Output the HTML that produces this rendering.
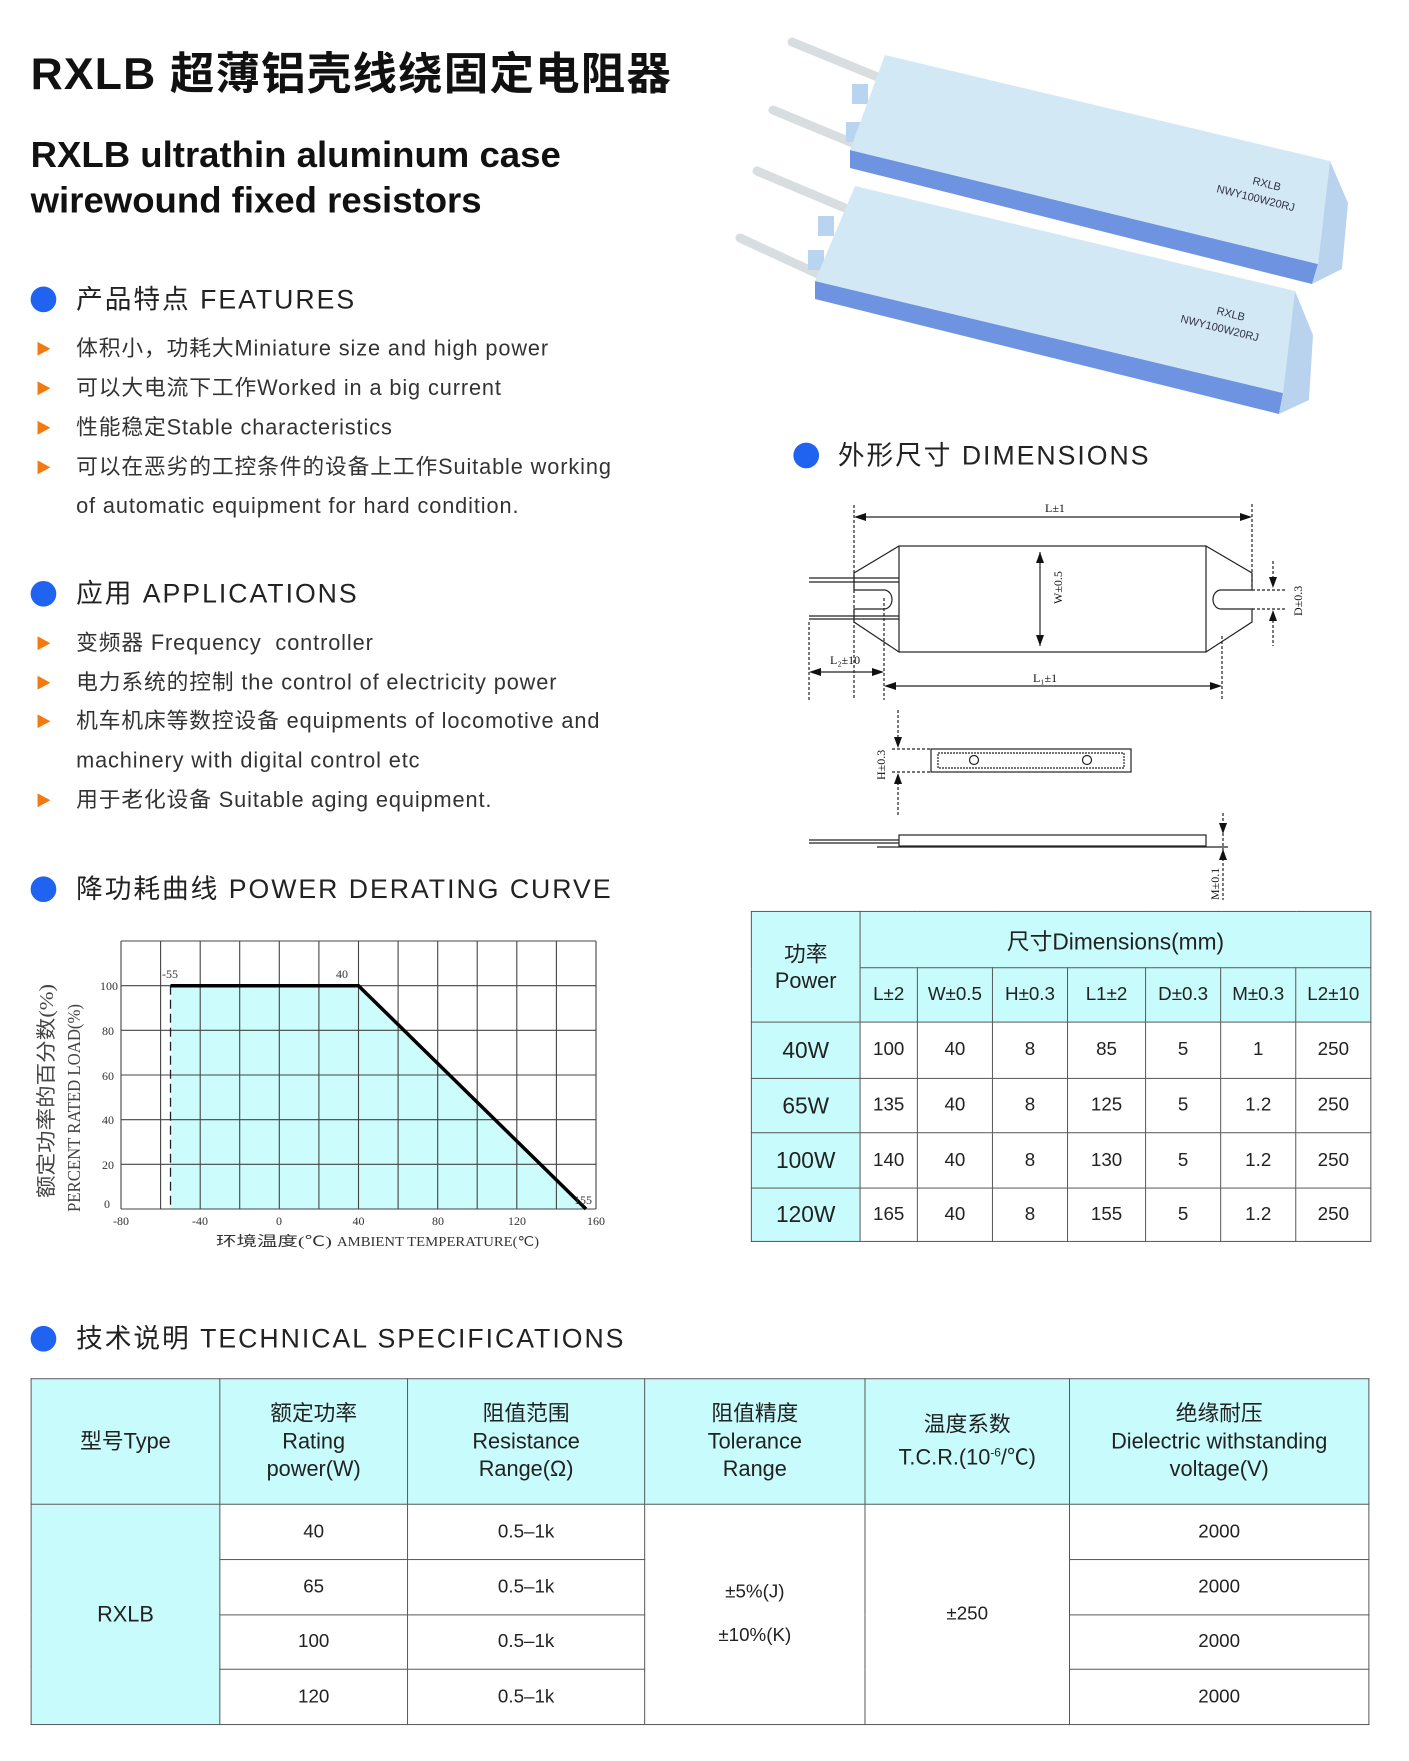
<!DOCTYPE html>
<html><head><meta charset="utf-8">
<style>
*{margin:0;padding:0;box-sizing:border-box}
body{width:1409px;height:1761px;background:#fff;position:relative;overflow:hidden;font-family:"Liberation Sans","Noto Sans CJK SC",sans-serif;color:#222}
.s{position:absolute;left:0;top:0;width:1409px;height:1761px;transform:scale(0.988);transform-origin:0 0}
.a{position:absolute;white-space:nowrap}
.h1{left:31px;top:38px;font-size:45px;font-weight:bold;color:#111;letter-spacing:1.2px}
.h2{left:31px;font-size:37px;font-weight:bold;color:#111;line-height:46px}
.sec{font-size:27px;letter-spacing:2px;color:#222;line-height:40px}
.dot{position:absolute;width:26px;height:26px;border-radius:50%;background:#1f63f0}
.it{font-size:22px;color:#333;line-height:40px;letter-spacing:0.9px}
.tri{position:absolute;width:0;height:0;border-top:7px solid transparent;border-bottom:7px solid transparent;border-left:13px solid #f47a10}
table{position:absolute;border-collapse:collapse;table-layout:fixed}
td{border:1.5px solid #555;text-align:center;vertical-align:middle;color:#222;padding:0}
.c{background:#c8fbfc}
</style></head><body>

<svg class="a" style="left:0;top:0" width="1409" height="1761" viewBox="0 0 1409 1761">
<!-- photo -->
<g>
<line x1="792" y1="42" x2="880" y2="78" stroke="#d8dde0" stroke-width="9" stroke-linecap="round"/>
<line x1="773" y1="110" x2="855" y2="144" stroke="#d8dde0" stroke-width="9" stroke-linecap="round"/>
<rect x="852" y="84" width="16" height="20" fill="#b8d4f0"/>
<rect x="846" y="122" width="16" height="20" fill="#b8d4f0"/>
<polygon points="850,150 1318,264 1312,284 850,168" fill="#6e93e0"/>
<polygon points="885,55 1330,161 1318,264 850,150" fill="#d2e8f4"/>
<polygon points="1330,161 1348,203 1342,269 1312,284 1318,264" fill="#b9d3ef"/>
<text x="1252" y="184" font-size="11" fill="#334" transform="rotate(14 1252 184)">RXLB</text>
<text x="1216" y="192" font-size="11" fill="#334" transform="rotate(14 1216 192)">NWY100W20RJ</text>
<line x1="757" y1="171" x2="845" y2="208" stroke="#d8dde0" stroke-width="9" stroke-linecap="round"/>
<line x1="740" y1="238" x2="818" y2="274" stroke="#d8dde0" stroke-width="9" stroke-linecap="round"/>
<rect x="818" y="216" width="16" height="20" fill="#b8d4f0"/>
<rect x="808" y="250" width="16" height="20" fill="#b8d4f0"/>
<polygon points="815,281 1283,393 1279,414 815,299" fill="#6e93e0"/>
<polygon points="855,186 1295,291 1283,393 815,281" fill="#d2e8f4"/>
<polygon points="1295,291 1313,335 1309,400 1279,414 1283,393" fill="#b9d3ef"/>
<text x="1216" y="314" font-size="11" fill="#334" transform="rotate(14 1216 314)">RXLB</text>
<text x="1180" y="322" font-size="11" fill="#334" transform="rotate(14 1180 322)">NWY100W20RJ</text>
</g>

<!-- dimension drawing -->
<g stroke="#222" stroke-width="1.2" fill="none" font-family="Liberation Serif,serif" font-size="12">
<g stroke-dasharray="3,2">
<line x1="854" y1="505" x2="854" y2="700"/><line x1="1252" y1="504" x2="1252" y2="588"/>
<line x1="809" y1="622" x2="809" y2="700"/><line x1="884" y1="598" x2="884" y2="700"/>
<line x1="1222" y1="636" x2="1222" y2="700"/>
<line x1="1252" y1="590" x2="1286" y2="590"/><line x1="1252" y1="609" x2="1286" y2="609"/>
<line x1="892" y1="749" x2="931" y2="749"/><line x1="892" y1="772" x2="931" y2="772"/>
<line x1="898" y1="710" x2="898" y2="740"/><line x1="898" y1="782" x2="898" y2="817"/>
<line x1="1223" y1="813" x2="1223" y2="900"/>
<line x1="1273" y1="561" x2="1273" y2="580"/><line x1="1273" y1="620" x2="1273" y2="646"/>
</g>
<line x1="860" y1="517" x2="1246" y2="517"/>
<rect x="899" y="546" width="307" height="106"/>
<path d="M899,546 L854,573 L854,590 L884,590 A8,9.5 0 0 1 884,609 L854,609 L854,622 L899,652"/>
<path d="M1206,546 L1252,573 L1252,590 L1221,590 A8,9.5 0 0 0 1221,609 L1252,609 L1252,622 L1206,652"/>
<line x1="809" y1="578" x2="899" y2="578"/><line x1="809" y1="582" x2="899" y2="582"/>
<line x1="809" y1="616" x2="899" y2="616"/><line x1="809" y1="619" x2="899" y2="619"/>
<line x1="1040" y1="552" x2="1040" y2="646"/>
<line x1="815" y1="672" x2="878" y2="672"/>
<line x1="890" y1="686" x2="1216" y2="686"/>
<rect x="931" y="749" width="200" height="23"/>
<rect x="938" y="753" width="186" height="15" stroke-dasharray="2,1"/>
<circle cx="974" cy="760" r="4.5"/><circle cx="1087" cy="760" r="4.5"/>
<rect x="899" y="835" width="307" height="11"/>
<line x1="809" y1="840" x2="899" y2="840"/><line x1="809" y1="843" x2="899" y2="843"/>
<line x1="877" y1="847" x2="1228" y2="847"/>
<g fill="#111" stroke="none">
<polygon points="854,517 866,513 866,521"/><polygon points="1252,517 1240,513 1240,521"/>
<polygon points="1040,552 1036,563 1044,563"/><polygon points="1040,646 1036,635 1044,635"/>
<polygon points="809,672 821,668 821,676"/><polygon points="884,672 872,668 872,676"/>
<polygon points="884,686 896,682 896,690"/><polygon points="1222,686 1210,682 1210,690"/>
<polygon points="1273,588 1269,577 1277,577"/><polygon points="1273,610 1269,621 1277,621"/>
<polygon points="898,748 894,737 902,737"/><polygon points="898,773 894,784 902,784"/>
<polygon points="1223,834 1219,823 1227,823"/><polygon points="1223,849 1219,860 1227,860"/>
<text x="1045" y="512">L±1</text>
<text x="830" y="664">L₂±10</text>
<text x="1033" y="682">L₁±1</text>
<text transform="translate(1062,604) rotate(-90)">W±0.5</text>
<text transform="translate(1302,616) rotate(-90)">D±0.3</text>
<text transform="translate(885,780) rotate(-90)">H±0.3</text>
<text transform="translate(1219,900) rotate(-90)">M±0.1</text>
</g>
</g>

<!-- chart -->
<polygon points="170.5,985.7 358.5,985.7 586,1209 170.5,1209" fill="#ccfcfc"/>
<g stroke="#444" stroke-width="1.1">
<line x1="121" y1="941" x2="596" y2="941"/><line x1="121" y1="985.7" x2="596" y2="985.7"/>
<line x1="121" y1="1030.3" x2="596" y2="1030.3"/><line x1="121" y1="1075" x2="596" y2="1075"/>
<line x1="121" y1="1119.7" x2="596" y2="1119.7"/><line x1="121" y1="1164.3" x2="596" y2="1164.3"/>
<line x1="121" y1="1209" x2="596" y2="1209"/>
<line x1="121" y1="941" x2="121" y2="1209"/><line x1="160.6" y1="941" x2="160.6" y2="1209"/>
<line x1="200.2" y1="941" x2="200.2" y2="1209"/><line x1="239.7" y1="941" x2="239.7" y2="1209"/>
<line x1="279.3" y1="941" x2="279.3" y2="1209"/><line x1="318.9" y1="941" x2="318.9" y2="1209"/>
<line x1="358.5" y1="941" x2="358.5" y2="1209"/><line x1="398.1" y1="941" x2="398.1" y2="1209"/>
<line x1="437.7" y1="941" x2="437.7" y2="1209"/><line x1="477.2" y1="941" x2="477.2" y2="1209"/>
<line x1="516.8" y1="941" x2="516.8" y2="1209"/><line x1="556.4" y1="941" x2="556.4" y2="1209"/>
<line x1="596" y1="941" x2="596" y2="1209"/>
</g>
<line x1="170.5" y1="985.7" x2="170.5" y2="1209" stroke="#222" stroke-width="1.3" stroke-dasharray="9,5"/>
<polyline points="170.5,985.7 358.5,985.7 586,1209" fill="none" stroke="#000" stroke-width="3.5"/>
<g font-family="Liberation Serif,serif" font-size="12" fill="#333">
<text x="118" y="990" text-anchor="end">100</text><text x="114" y="1035" text-anchor="end">80</text>
<text x="114" y="1080" text-anchor="end">60</text><text x="114" y="1124" text-anchor="end">40</text>
<text x="114" y="1169" text-anchor="end">20</text><text x="110" y="1208" text-anchor="end">0</text>
<text x="162" y="978">-55</text><text x="336" y="978">40</text><text x="574" y="1204">155</text>
<text x="121" y="1225" text-anchor="middle">-80</text><text x="200" y="1225" text-anchor="middle">-40</text>
<text x="279" y="1225" text-anchor="middle">0</text><text x="358.5" y="1225" text-anchor="middle">40</text>
<text x="438" y="1225" text-anchor="middle">80</text><text x="517" y="1225" text-anchor="middle">120</text>
<text x="596" y="1225" text-anchor="middle">160</text>
<text x="216" y="1246" font-size="14" textLength="116" lengthAdjust="spacingAndGlyphs">环境温度(℃)</text>
<text x="337" y="1246" font-size="14" textLength="202" lengthAdjust="spacingAndGlyphs">AMBIENT TEMPERATURE(℃)</text>
<text transform="translate(53,1198) rotate(-90)" font-size="20" fill="#444" textLength="214" lengthAdjust="spacingAndGlyphs">额定功率的百分数(%)</text>
<text transform="translate(80,1212) rotate(-90)" font-size="18" fill="#444" textLength="208" lengthAdjust="spacingAndGlyphs">PERCENT RATED LOAD(%)</text>
</g>
</svg>

<div class="s">
<div class="a h1">RXLB 超薄铝壳线绕固定电阻器</div>
<div class="a h2" style="top:134px">RXLB ultrathin aluminum case</div>
<div class="a h2" style="top:180px">wirewound fixed resistors</div>

<div class="dot" style="left:31px;top:290px"></div>
<div class="a sec" style="left:77px;top:283px">产品特点 FEATURES</div>
<div class="tri" style="left:38px;top:346px"></div><div class="a it" style="left:77px;top:333px">体积小，功耗大Miniature size and high power</div>
<div class="tri" style="left:38px;top:386px"></div><div class="a it" style="left:77px;top:373px">可以大电流下工作Worked in a big current</div>
<div class="tri" style="left:38px;top:426px"></div><div class="a it" style="left:77px;top:413px">性能稳定Stable characteristics</div>
<div class="tri" style="left:38px;top:466px"></div><div class="a it" style="left:77px;top:453px">可以在恶劣的工控条件的设备上工作Suitable working</div>
<div class="a it" style="left:77px;top:492px">of automatic equipment for hard condition.</div>

<div class="dot" style="left:31px;top:588px"></div>
<div class="a sec" style="left:77px;top:581px">应用 APPLICATIONS</div>
<div class="tri" style="left:38px;top:644px"></div><div class="a it" style="left:77px;top:631px">变频器 Frequency&nbsp; controller</div>
<div class="tri" style="left:38px;top:684px"></div><div class="a it" style="left:77px;top:671px">电力系统的控制 the control of electricity power</div>
<div class="tri" style="left:38px;top:723px"></div><div class="a it" style="left:77px;top:710px">机车机床等数控设备 equipments of locomotive and</div>
<div class="a it" style="left:77px;top:750px">machinery with digital control etc</div>
<div class="tri" style="left:38px;top:803px"></div><div class="a it" style="left:77px;top:790px">用于老化设备 Suitable aging equipment.</div>

<div class="dot" style="left:31px;top:887px"></div>
<div class="a sec" style="left:77px;top:880px">降功耗曲线 POWER DERATING CURVE</div>

<div class="dot" style="left:803px;top:448px"></div>
<div class="a sec" style="left:848px;top:441px">外形尺寸 DIMENSIONS</div>

<div class="dot" style="left:31px;top:1342px"></div>
<div class="a sec" style="left:77px;top:1335px">技术说明 TECHNICAL SPECIFICATIONS</div>

<table style="left:760px;top:922px;width:627px;font-size:19px">
<colgroup><col style="width:110px"><col style="width:58px"><col style="width:76px"><col style="width:76px"><col style="width:79px"><col style="width:76px"><col style="width:76px"><col style="width:76px"></colgroup>
<tr style="height:57px"><td class="c" rowspan="2" style="font-size:22px;line-height:27px">功率<br>Power</td><td class="c" colspan="7" style="font-size:23px">尺寸Dimensions(mm)</td></tr>
<tr style="height:55px"><td class="c">L±2</td><td class="c">W±0.5</td><td class="c">H±0.3</td><td class="c">L1±2</td><td class="c">D±0.3</td><td class="c">M±0.3</td><td class="c">L2±10</td></tr>
<tr style="height:57px"><td class="c" style="font-size:23px">40W</td><td>100</td><td>40</td><td>8</td><td>85</td><td>5</td><td>1</td><td>250</td></tr>
<tr style="height:55px"><td class="c" style="font-size:23px">65W</td><td>135</td><td>40</td><td>8</td><td>125</td><td>5</td><td>1.2</td><td>250</td></tr>
<tr style="height:56px"><td class="c" style="font-size:23px">100W</td><td>140</td><td>40</td><td>8</td><td>130</td><td>5</td><td>1.2</td><td>250</td></tr>
<tr style="height:54px"><td class="c" style="font-size:23px">120W</td><td>165</td><td>40</td><td>8</td><td>155</td><td>5</td><td>1.2</td><td>250</td></tr>
</table>

<table style="left:31px;top:1395px;width:1354px;font-size:19px">
<colgroup><col style="width:191px"><col style="width:190px"><col style="width:240px"><col style="width:223px"><col style="width:207px"><col style="width:303px"></colgroup>
<tr style="height:127px;font-size:22px;line-height:28px"><td class="c">型号Type</td><td class="c">额定功率<br>Rating<br>power(W)</td><td class="c">阻值范围<br>Resistance<br>Range(Ω)</td><td class="c">阻值精度<br>Tolerance<br>Range</td><td class="c">温度系数<br>T.C.R.(10<sup style="font-size:12px">-6</sup>/℃)</td><td class="c">绝缘耐压<br>Dielectric withstanding<br>voltage(V)</td></tr>
<tr style="height:56px"><td class="c" rowspan="4" style="font-size:22px">RXLB</td><td>40</td><td>0.5–1k</td><td rowspan="4" style="line-height:44px">±5%(J)<br>±10%(K)</td><td rowspan="4">±250</td><td>2000</td></tr>
<tr style="height:56px"><td>65</td><td>0.5–1k</td><td>2000</td></tr>
<tr style="height:55px"><td>100</td><td>0.5–1k</td><td>2000</td></tr>
<tr style="height:56px"><td>120</td><td>0.5–1k</td><td>2000</td></tr>
</table>
</div>
</body></html>
